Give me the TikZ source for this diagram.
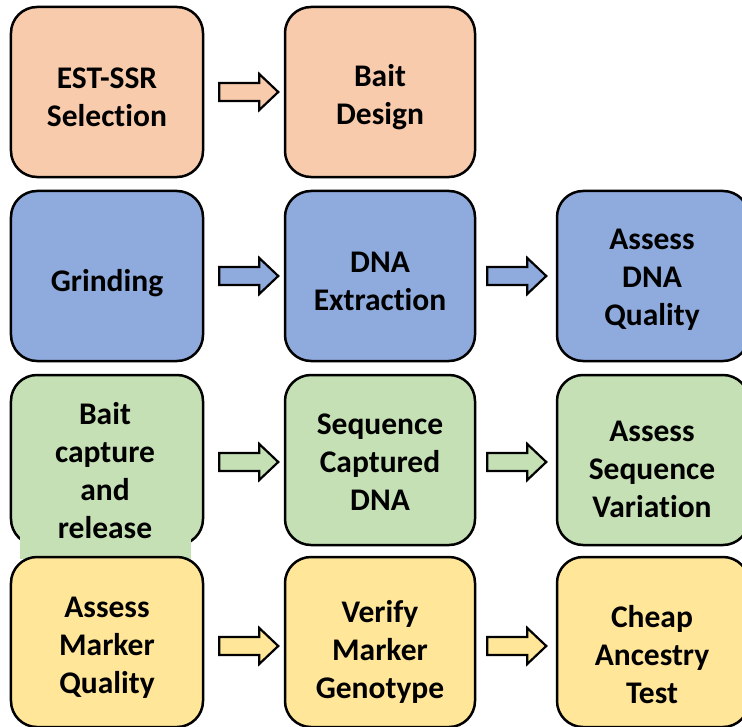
\documentclass[tikz,border=0pt]{standalone}
\usepackage{fontspec}
\setmainfont[Ligatures=NoCommon]{Carlito}
\usetikzlibrary{calc}
\definecolor{peach}{HTML}{F8CBAD}
\definecolor{bluebox}{HTML}{8FAADC}
\definecolor{greenbox}{HTML}{C5E0B4}
\definecolor{yellowbox}{HTML}{FFE699}
\begin{document}
\begin{tikzpicture}[x=1bp,y=-1bp,
  box/.style={draw=black, line width=2.5bp, rounded corners=26bp, minimum height=170bp, inner sep=0pt},
  lbl/.style={align=center, font=\fontsize{31.5bp}{38bp}\selectfont\bfseries, inner sep=0pt},
  barrow/.style={draw=black, line width=2.2bp, line join=miter}]
\useasboundingbox (0,0) rectangle (742,727);
\clip (0,0) rectangle (742,727);
\newcommand\blockarr[4]{%
  \draw[barrow, fill=#3] ($(#1.east)+(#2,#4-9)$) -- ++(40,0) -- ++(0,-9) -- ++(19,18) -- ++(-19,18) -- ++(0,-9) -- ++(-40,0) -- cycle;}
% row 1
\node[box, fill=peach, minimum width=192bp] (a1) at (107,92) {};
\node[box, fill=peach, minimum width=190bp] (a2) at (380,92) {};
% row 2
\node[box, fill=bluebox, minimum width=192bp] (b1) at (107,276) {};
\node[box, fill=bluebox, minimum width=190bp] (b2) at (380,276) {};
\node[box, fill=bluebox, minimum width=192bp] (b3) at (653,276) {};
% row 3
\node[box, fill=greenbox, minimum width=192bp] (c1) at (107,460) {};
\node[box, fill=greenbox, minimum width=190bp] (c2) at (380,460) {};
\node[box, fill=greenbox, minimum width=192bp] (c3) at (653,460) {};
\fill[greenbox] (20,470) rectangle (191,559);
% row 4
\node[box, fill=yellowbox, minimum width=192bp] (d1) at (107,642) {};
\node[box, fill=yellowbox, minimum width=190bp] (d2) at (380,642) {};
\node[box, fill=yellowbox, minimum width=192bp] (d3) at (653,642) {};
% arrows
\blockarr{a1}{15}{peach}{0}
\blockarr{b1}{15}{bluebox}{0}
\blockarr{b2}{11}{bluebox}{0}
\blockarr{c1}{15}{greenbox}{2}
\blockarr{c2}{11}{greenbox}{2}
\blockarr{d1}{15}{yellowbox}{4}
\blockarr{d2}{11}{yellowbox}{4}
% labels
\node[lbl] (ta1) at (107,97) {EST-SSR\\Selection};
\node[lbl] (ta2) at (380,97) {Bait\\Design};
\node[lbl] (tb1) at (107,283) {Grinding};
\node[lbl] (tb2) at (380,281) {DNA\\Extraction};
\node[lbl] (tb3) at (652,280) {Assess\\DNA\\Quality};
\node[lbl] (tc1) at (105,471) {Bait\\capture\\and\\release};
\node[lbl] (tc2) at (380,462) {Sequence\\Captured\\DNA};
\node[lbl] (tc3) at (652,469) {Assess\\Sequence\\Variation};
\node[lbl] (td1) at (107,648) {Assess\\Marker\\Quality};
\node[lbl] (td2) at (380,652) {Verify\\Marker\\Genotype};
\node[lbl] (td3) at (652,655) {Cheap\\Ancestry\\Test};
\end{tikzpicture}
\end{document}
